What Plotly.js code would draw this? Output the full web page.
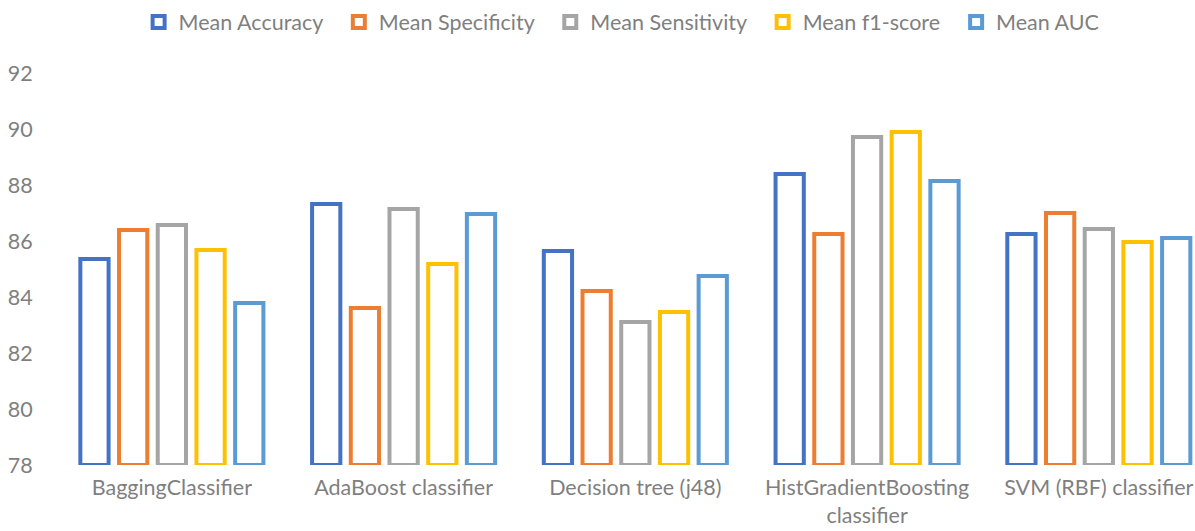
<!DOCTYPE html>
<html>
<head>
<meta charset="utf-8">
<script src="https://cdn.plot.ly/plotly-3.0.1.min.js"></script>
<style>
  html, body { margin: 0; padding: 0; background: #ffffff; }
  #chart { width: 1195px; height: 531px; }
</style>
</head>
<body>
<div id="chart"></div>
<script>
// Classifier comparison: five mean metrics per model (percent)
const categories = [
  "BaggingClassifier",
  "AdaBoost classifier",
  "Decision tree (j48)",
  "HistGradientBoosting<br>classifier",
  "SVM (RBF) classifier"
];

const seriesNames = ["Mean Accuracy", "Mean Specificity", "Mean Sensitivity", "Mean f1-score", "Mean AUC"];

const meanAccuracy    = [85.36, 87.32, 85.64, 88.39, 86.25];
const meanSpecificity = [86.39, 83.61, 84.21, 86.25, 87.00];
const meanSensitivity = [86.57, 87.14, 83.11, 89.71, 86.43];
const meanF1Score     = [85.68, 85.18, 83.46, 89.89, 85.96];
const meanAUC         = [83.79, 86.96, 84.75, 88.14, 86.11];

const yTicks = [78, 80, 82, 84, 86, 88, 90, 92];

const seriesValues = [meanAccuracy, meanSpecificity, meanSensitivity, meanF1Score, meanAUC];
const seriesColors = ["#4472C4", "#ED7D31", "#A5A5A5", "#FFC000", "#5B9BD5"];

const axisFloor = 78;
const textColor = "#7f7f7f";
const fontFamily = "Lato, 'Open Sans', sans-serif";
const fontSize = 21.5;
// non-breaking padding widens the space between legend entries
const legendPad = "\u00a0\u00a0";

// Hollow bars standing on the axis floor; base + length = metric value
const traces = seriesValues.map((vals, i) => ({
  type: "bar",
  name: seriesNames[i] + legendPad,
  x: categories,
  base: axisFloor,
  y: vals.map(v => v - axisFloor),
  customdata: vals,
  hovertemplate: "%{x}: %{customdata}<extra>" + seriesNames[i] + "</extra>",
  marker: {
    color: "#ffffff",
    line: { color: seriesColors[i], width: 4 }
  },
  cliponaxis: false
}));

const layout = {
  width: 1195,
  height: 531,
  paper_bgcolor: "#ffffff",
  plot_bgcolor: "#ffffff",
  font: { family: fontFamily, size: fontSize, color: textColor },
  margin: { l: 56, r: 0, t: 73, b: 66, pad: 0 },
  barmode: "group",
  bargap: 0.165,
  bargroupgap: 0.27,
  showlegend: true,
  legend: {
    orientation: "h",
    x: 0.116,
    xanchor: "left",
    xref: "container",
    y: 0.997,
    yref: "container",
    yanchor: "top",
    font: { family: fontFamily, size: fontSize, color: textColor },
    itemwidth: 30,
    traceorder: "normal"
  },
  xaxis: {
    type: "category",
    range: [-0.5, 4.415],
    showgrid: false,
    zeroline: false,
    showline: false,
    ticks: "outside",
    ticklen: 3,
    tickcolor: "rgba(0,0,0,0)",
    tickfont: { family: fontFamily, size: fontSize, color: textColor },
    fixedrange: true
  },
  yaxis: {
    range: [78, 92],
    tickvals: yTicks,
    ticktext: yTicks.map(String),
    showgrid: false,
    zeroline: false,
    showline: false,
    ticks: "outside",
    ticklen: 18,
    tickcolor: "rgba(0,0,0,0)",
    tickfont: { family: fontFamily, size: fontSize, color: textColor },
    fixedrange: true
  }
};

Plotly.newPlot("chart", traces, layout, { displayModeBar: false, staticPlot: true });
</script>
</body>
</html>
